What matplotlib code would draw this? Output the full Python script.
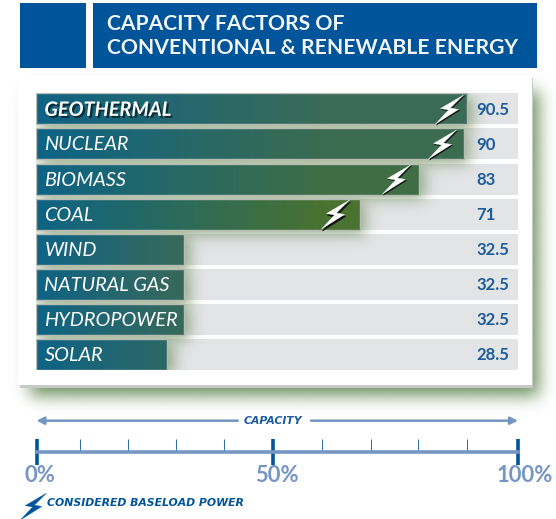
import math
import numpy as np
import matplotlib
matplotlib.use("Agg")
import matplotlib.pyplot as plt
from matplotlib.patches import Rectangle
from matplotlib.path import Path
from matplotlib.colors import to_rgb
import matplotlib.patheffects as pe

# ---------- data ----------
categories = ["GEOTHERMAL", "NUCLEAR", "BIOMASS", "COAL", "WIND", "NATURAL GAS", "HYDROPOWER", "SOLAR"]
value_labels = ["90.5", "90", "83", "71", "32.5", "32.5", "32.5", "28.5"]
# bar lengths as drawn in the picture, read against the 0-100% scale
bar_lengths = [89.5, 88.8, 79.5, 67.2, 30.7, 30.7, 30.7, 27.2]
baseload = [True, True, True, True, False, False, False, False]
bolt_positions = [85.7, 84.2, 74.7, 62.0]
scale_major = [0, 49.2, 100]
scale_minor = [9.0, 19.0, 29.0, 39.0, 59.3, 69.4, 79.2, 89.4]
scale_labels = ["0%", "50%", "100%"]
title_lines = ["CAPACITY FACTORS OF", "CONVENTIONAL & RENEWABLE ENERGY"]

W, H = 556, 519
BLUE = "#00549a"
LIGHT = "#7596c4"
TEXT_BLUE = "#1d5c9f"
end_colors = ["#3b6b58", "#3c6c50", "#406e44", "#4a7230", "#39695a", "#38695a", "#38695a", "#2d6865"]
START = "#0e6385"

erf = np.vectorize(math.erf)

def shadow(axis, x0, x1, y0, y1, sx, sy, color, alpha, z):
    """Gaussian-soft rectangle shadow drawn through the data scales of `axis`."""
    n = 120
    xs = np.linspace(x0 - 3 * sx, x1 + 3 * sx, n)
    ys = np.linspace(y0 - 3 * sy, y1 + 3 * sy, n)
    fx = 0.5 * (erf((xs - x0) / (sx * 1.414)) - erf((xs - x1) / (sx * 1.414)))
    fy = 0.5 * (erf((ys - y0) / (sy * 1.414)) - erf((ys - y1) / (sy * 1.414)))
    img = np.zeros((n, n, 4))
    img[..., :3] = to_rgb(color)
    img[..., 3] = alpha * np.outer(fy, fx)
    axis.imshow(img, extent=(xs[0], xs[-1], ys[0], ys[-1]), origin="lower",
                aspect="auto", zorder=z, interpolation="bilinear")

fig = plt.figure(figsize=(W / 100, H / 100), dpi=100, facecolor="white")

def axes_px(left, right, top, bottom, **kw):
    return fig.add_axes([left / W, 1 - bottom / H, (right - left) / W, (bottom - top) / H], **kw)

# ---------- decoration layer in pixel space ----------
deco = axes_px(0, W, 0, H, zorder=0)
deco.add_patch(Rectangle((20, 3), 65.5, 65, fc=BLUE, ec="none"))
deco.add_patch(Rectangle((92.5, 3), 444, 65, fc=BLUE, ec="none"))
shadow(deco, 28, 541, 90, 397, 8, 8, "#6f9160", 1.0, 1)
deco.add_patch(Rectangle((20, 78), 513, 310, fc="#c8c8c8", ec="none", zorder=2))
deco.add_patch(Rectangle((18, 76), 514, 309, fc="white", ec="none", zorder=3))
deco.text(107, 24.2, title_lines[0], color="#f2f5f9", fontsize=15.25, fontweight="bold",
          family="Lato", va="center", ha="left", zorder=5)
deco.text(107, 48, title_lines[1], color="#f2f5f9", fontsize=15.25, fontweight="bold",
          family="Lato", va="center", ha="left", zorder=5)
deco.text(47, 503, "CONSIDERED BASELOAD POWER", color=BLUE, fontsize=7.8, style="italic",
          fontweight="bold", family="DejaVu Sans", va="center", ha="left", zorder=5)

bolt_path = Path(
    [(14, 14.5), (-9, 1), (-1, -0.5), (-14, -14.5), (9, 0), (1, 1.5), (14, 14.5), (14, 14.5)],
    [Path.MOVETO] + [Path.LINETO] * 6 + [Path.CLOSEPOLY],
)
deco.plot([33], [505.5], marker=bolt_path, ms=19, mfc=BLUE, mec=BLUE, mew=0.3, zorder=5, clip_on=False)
deco.set_xlim(0, W)
deco.set_ylim(H, 0)
deco.axis("off")

# ---------- bars ----------
ax = axes_px(36, 518, 93.3, 370, zorder=1)
ax.patch.set_alpha(0)
rows = np.arange(len(categories))
bar_h = 31 / 35.1
ax.barh(rows, [100] * len(rows), height=bar_h, color="#e2e4e6", zorder=1)

for i, length in zip(rows, bar_lengths):
    shadow(ax, 0.5, length + 1.3, i - bar_h / 2 + 0.12, i + bar_h / 2 + 0.14, 1.5, 0.2, "#6c8a58", 0.7, 2)

bars = ax.barh(rows, bar_lengths, height=bar_h, color="none", edgecolor="#b6bcb4", linewidth=1.0, zorder=5)
for i, (bar, length, ec) in enumerate(zip(bars, bar_lengths, end_colors)):
    reach = min(length, 60)
    xs = np.linspace(0, length, 200)
    t = np.clip(xs / reach, 0, 1)[None, :, None]
    img = (1 - t) * np.array(to_rgb(START)) + t * np.array(to_rgb(ec))
    im = ax.imshow(img, extent=(0, length, i - bar_h / 2, i + bar_h / 2), aspect="auto", zorder=3)
    im.set_clip_path(Rectangle((0, i - bar_h / 2), length, bar_h, transform=ax.transData))

flags = [i for i, b in zip(rows, baseload) if b]
ax.plot(np.array(bolt_positions) + 0.25, np.array(flags) + 0.04, ls="none", marker=bolt_path, ms=21,
        mfc="#111111", mec="#111111", mew=0.4, zorder=6)
ax.plot(bolt_positions, flags, ls="none", marker=bolt_path, ms=21,
        mfc="white", mec="white", mew=0.2, zorder=7)

for i, name in zip(rows, categories):
    first = i == 0
    effects = [pe.withSimplePatchShadow(offset=(1.5, -1.5), shadow_rgbFace="black", alpha=0.55)] if first else None
    ax.text(1.75, i + 0.03, name, color="white", fontsize=14.3, style="italic",
            fontweight="bold" if first else "normal", family="Lato", va="center", ha="left",
            zorder=8, path_effects=effects)
    ax.text(91.4, i + 0.02, value_labels[i], color=TEXT_BLUE, fontsize=12, fontweight="bold",
            family="Lato", va="center", ha="left", zorder=8)

ax.set_xlim(0, 100)
ax.set_ylim(len(rows) - 1 + bar_h / 2, -bar_h / 2)
ax.axis("off")

# ---------- capacity scale ----------
sc = axes_px(36.5, 518, 415, 452, zorder=2)
sc.patch.set_alpha(0)
sc.set_xlim(0, 100)
sc.set_ylim(452, 415)
for s in ("top", "left", "right"):
    sc.spines[s].set_visible(False)
sc.spines["bottom"].set_color(LIGHT)
sc.spines["bottom"].set_linewidth(2.6)
sc.set_yticks([])
sc.set_xticks(scale_major)
sc.set_xticks(scale_minor, minor=True)
sc.set_xticklabels([])
sc.tick_params(axis="x", which="major", direction="inout", length=18.7, width=2.6, color=BLUE)
sc.tick_params(axis="x", which="minor", direction="in", length=9.4, width=0.7, color="#2a69a8")
for x, lab in zip([0.8, 50.0, 101.3], scale_labels):
    sc.text(x, 475, lab, color=LIGHT, fontsize=15.8, fontweight="bold", family="Lato",
            ha="center", va="center", clip_on=False)
sc.text(49.1, 420.7, "CAPACITY", color="#1d5c9f", fontsize=7.8, style="italic", fontweight="bold",
        family="DejaVu Sans", ha="center", va="center")
arrow = dict(arrowstyle="-|>", color=LIGHT, lw=1.8, mutation_scale=11, shrinkA=0, shrinkB=0)
sc.annotate("", xy=(0, 420.7), xytext=(41.8, 420.7), arrowprops=arrow)
sc.annotate("", xy=(100, 420.7), xytext=(57, 420.7), arrowprops=arrow)

fig.savefig("out.png", dpi=100)
